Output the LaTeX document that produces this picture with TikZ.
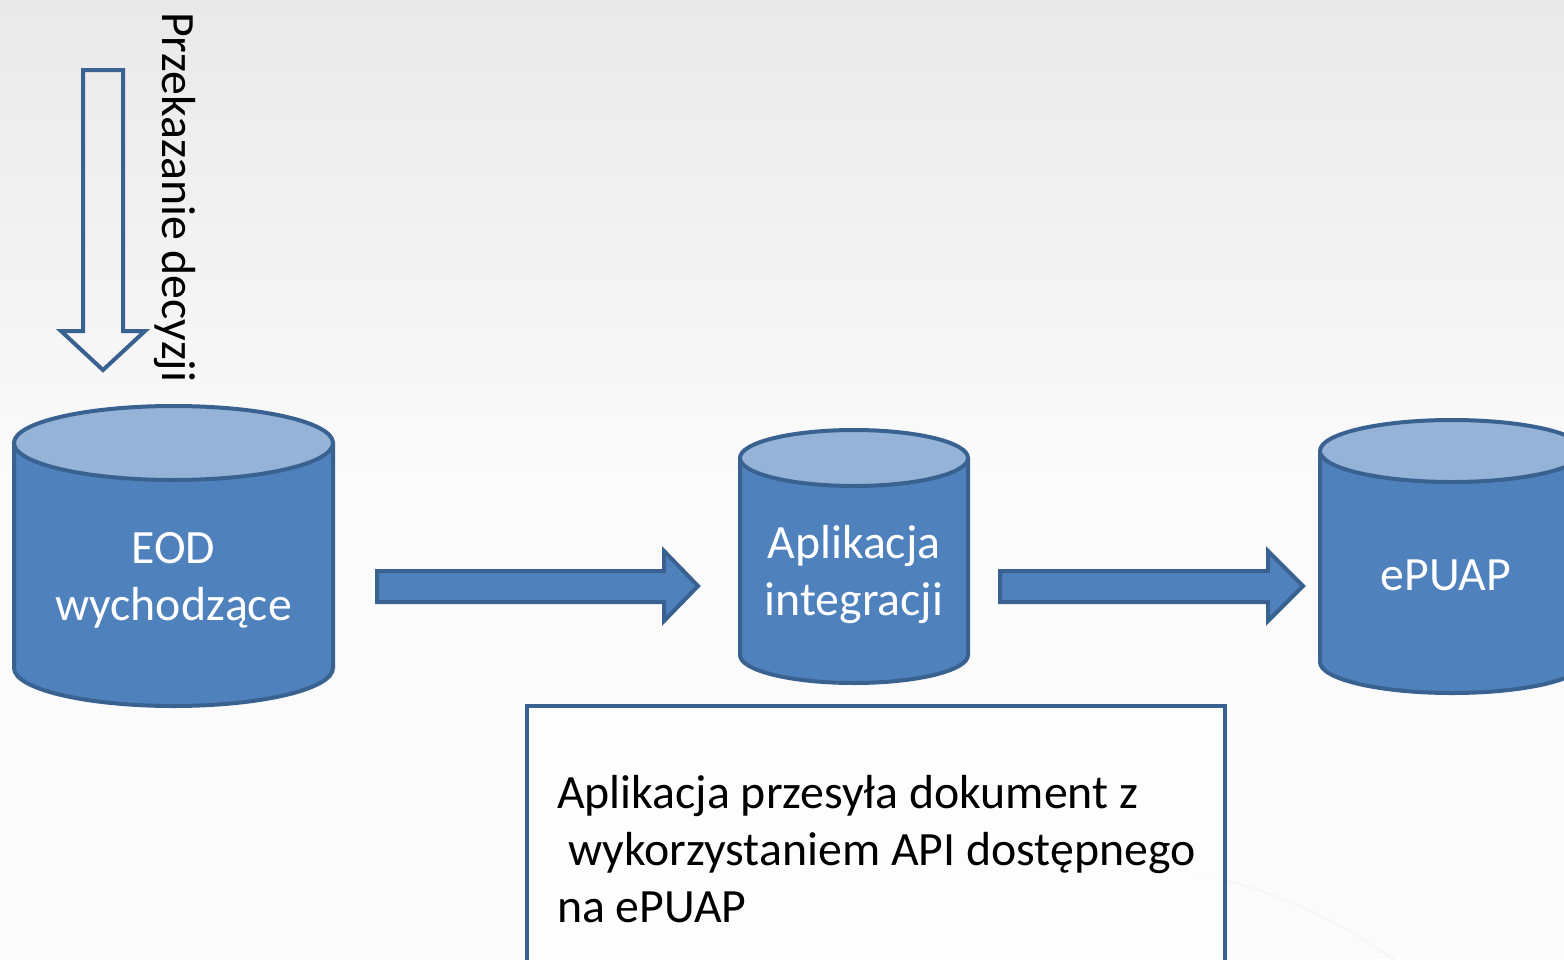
\documentclass[tikz,border=0pt]{standalone}
\usepackage{fontspec}
\setmainfont{Carlito}
\definecolor{bodyblue}{HTML}{4F81BD}
\definecolor{topblue}{HTML}{95B3D7}
\definecolor{edgeblue}{HTML}{3A6291}
\definecolor{bgtop}{HTML}{E9E9E9}
\definecolor{bgmid}{HTML}{FBFBFB}
\tikzset{
  cylbody/.style={fill=bodyblue, draw=edgeblue, line width=4pt, line join=round},
  cyltop/.style={fill=topblue, draw=edgeblue, line width=4pt},
  cyltext/.style={text=white, font=\fontsize{47.8}{57}\selectfont, align=center, inner sep=0pt},
  blockarrow/.style={fill=bodyblue, draw=edgeblue, line width=4pt, line join=miter},
  hollowarrow/.style={draw=edgeblue, line width=4pt, line join=miter},
  plaintext/.style={text=black, font=\fontsize{47.8}{57}\selectfont, inner sep=0pt},
  notebox/.style={draw=edgeblue, line width=3.5pt, fill=white, fill opacity=0.6}
}
\begin{document}
\begin{tikzpicture}[x=1pt,y=-1pt]
\useasboundingbox (0,0) rectangle (1564,959);
% background
\shade[top color=bgtop, bottom color=bgmid] (0,0) rectangle (1564,480);
\fill[bgmid] (0,479) rectangle (1564,959);
\draw[gray!7, line width=2pt] (120,959) arc[start angle=210, end angle=300, radius=560pt];
\draw[gray!7, line width=2pt] (1000,870) arc[start angle=100, end angle=40, radius=520pt];

% down hollow arrow
\draw[hollowarrow] (83,70) -- (123,70) -- (123,331) -- (145,331) -- (103,370) -- (61,331) -- (83,331) -- cycle;
\node[plaintext, rotate=-90, anchor=base west] (label) at (162,12) {Przekazanie decyzji};

% cylinder 1
\path[cylbody] (14,443) -- (14,668) arc[start angle=180, end angle=360, x radius=159.5pt, y radius=38pt] -- (333,443) -- cycle;
\path[cyltop] (173.5,443) ellipse[x radius=159.5pt, y radius=37pt];
\node[cyltext] (eod) at (173.5,580) {EOD\\wychodzące};

% cylinder 2
\path[cylbody] (740,458) -- (740,655) arc[start angle=180, end angle=360, x radius=114pt, y radius=28pt] -- (968,458) -- cycle;
\path[cyltop] (854,458) ellipse[x radius=114pt, y radius=28pt];
\node[cyltext] (app) at (854,575) {Aplikacja\\integracji};

% cylinder 3
\path[cylbody] (1320,451) -- (1320,662) arc[start angle=180, end angle=360, x radius=132pt, y radius=31pt] -- (1584,451) -- cycle;
\path[cyltop] (1452,451) ellipse[x radius=132pt, y radius=31pt];
\node[cyltext] (epuap) at (1446,575) {ePUAP};

% block arrows
\path[blockarrow] (377,571) -- (664,571) -- (664,551) -- (698,586) -- (664,621) -- (664,602) -- (377,602) -- cycle;
\path[blockarrow] (1000,571) -- (1268,571) -- (1268,551) -- (1303,586) -- (1268,621) -- (1268,602) -- (1000,602) -- cycle;

% note box
\draw[notebox] (527,706) rectangle (1225,990);
\node[plaintext, anchor=base west, align=left] (note) at (557,922)
  {Aplikacja przesyła dokument z\\\hspace*{0.226em}wykorzystaniem API dostępnego\\na ePUAP};
\end{tikzpicture}
\end{document}
